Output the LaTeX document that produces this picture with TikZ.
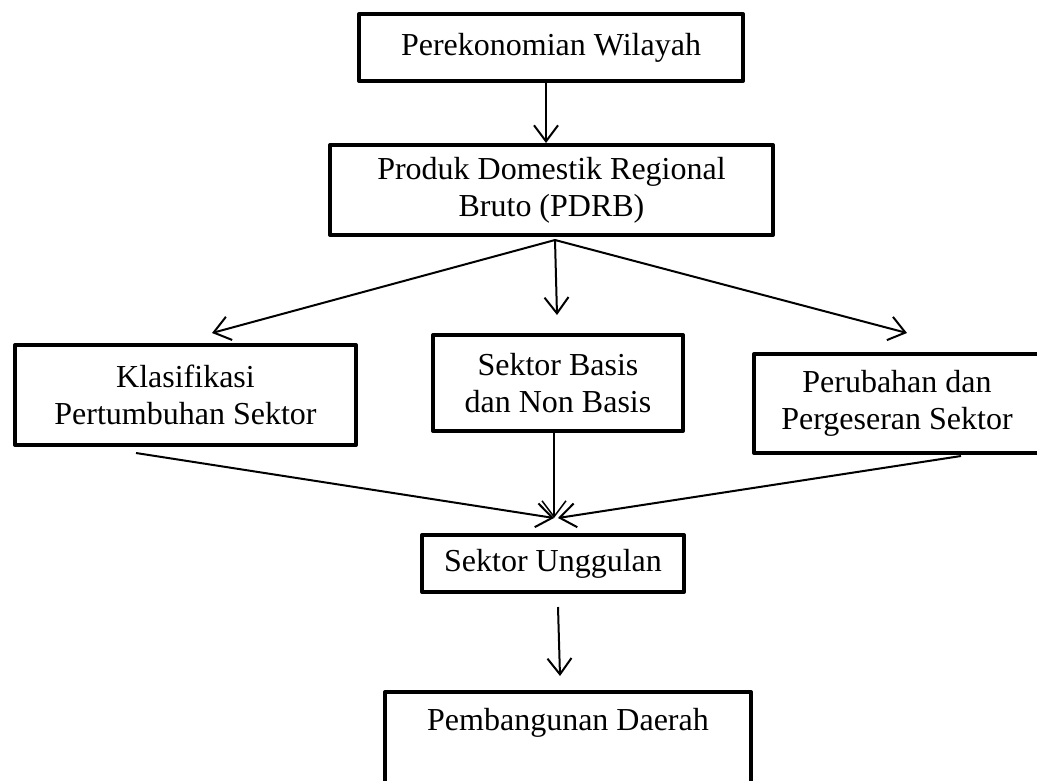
\documentclass[tikz,border=0pt]{standalone}
\usepackage{fontspec}
\setmainfont{Liberation Serif}
\usetikzlibrary{arrows.meta}
\begin{document}
\begin{tikzpicture}[x=1pt,y=-1pt,
  box/.style={draw, line width=4pt, line join=round, align=center, inner sep=0pt,
    font=\fontsize{32}{37}\selectfont},
  arr/.style={line width=2pt, -{Straight Barb[length=16pt,width=24pt]}},
  thinarr/.style={line width=1.5pt, -{Straight Barb[length=16pt,width=24pt]}}]
\useasboundingbox (0,0) rectangle (1037,780);
% boxes
\node[box, minimum width=384pt, minimum height=67pt] (b1) at (551,47.5) {Perekonomian Wilayah};
\node[box, minimum width=443pt, minimum height=90pt] (b2) at (551.5,190) {Produk Domestik Regional\\Bruto (PDRB)};
\node[box, minimum width=341pt, minimum height=100pt] (b3) at (185.5,395) {Klasifikasi\\Pertumbuhan Sektor};
\node[box, minimum width=250pt, minimum height=96pt] (b4) at (558,383) {Sektor Basis\\dan Non Basis};
\node[box, minimum width=286pt, minimum height=99pt] (b5) at (897,403.5) {Perubahan dan\\Pergeseran Sektor};
\node[box, minimum width=262pt, minimum height=57pt] (b6) at (553,563.5) {Sektor Unggulan};
\node[box, anchor=north, minimum width=366pt, text height=25pt, text depth=70pt, inner ysep=13pt] (b7) at (568,690) {Pembangunan Daerah};
% coordinates
\coordinate (hub) at (555,240);
\coordinate (t3) at (212,333);
\coordinate (t4) at (557,315);
\coordinate (t5) at (907,333);
\coordinate (s3) at (136,453);
\coordinate (s5) at (961,456);
\coordinate (meet) at (554,518);
\coordinate (meetR) at (558,518);
\coordinate (s6) at (558,607);
\coordinate (t7) at (560,676);
% connectors
\draw[arr] ([xshift=-5pt]b1.south) -- ([xshift=-5.5pt]b2.north);
\draw[arr] (hub) -- (t3);
\draw[arr] (hub) -- (t4);
\draw[arr] (hub) -- (t5);
\draw[arr] (s3) -- (meet);
\draw[thinarr] (b4.south -| meet) -- (meet);
\draw[arr] (s5) -- (meetR);
\draw[arr] (s6) -- (t7);
\end{tikzpicture}
\end{document}
